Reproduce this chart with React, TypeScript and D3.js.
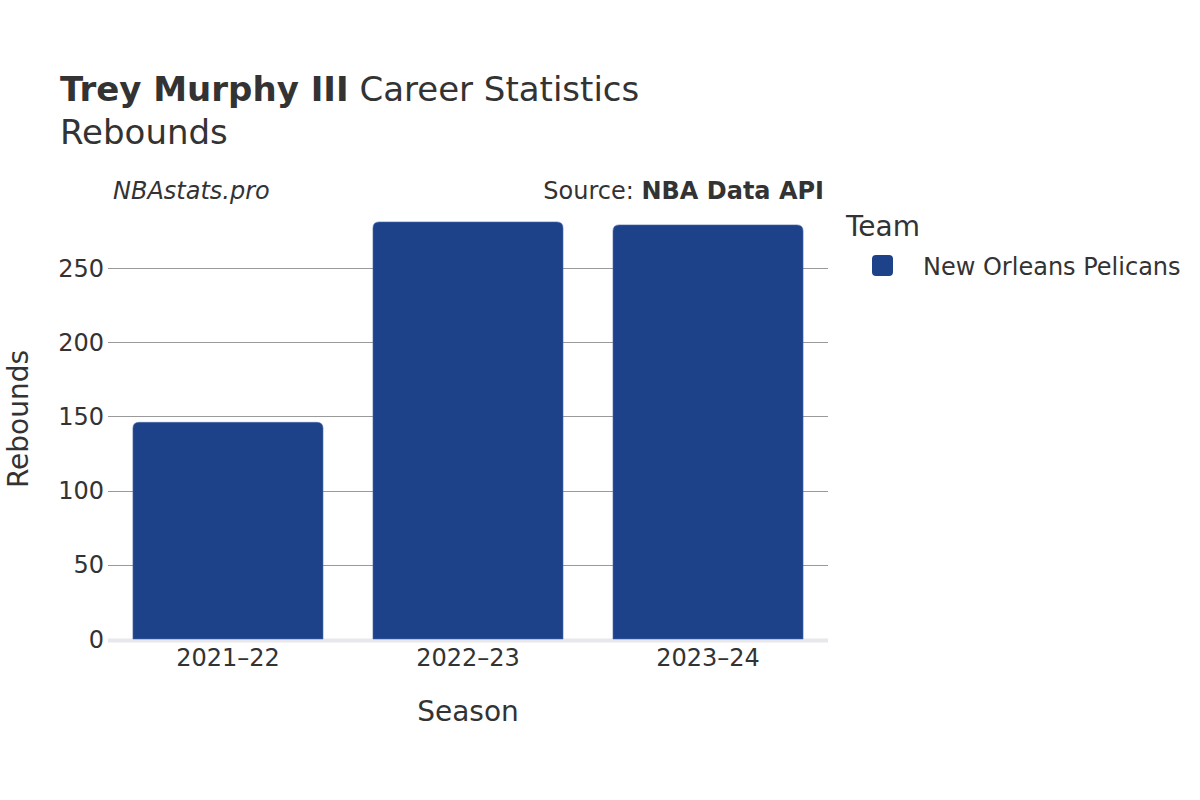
import * as d3 from "d3";
import { useEffect, useRef } from "react";

const seasons = ["2021–22", "2022–23", "2023–24"];
const rebounds = [146, 281, 279];
const yTicks = [0, 50, 100, 150, 200, 250];
const teamName = "New Orleans Pelicans";
const teamColor = "#1d428a";

const W = 1200;
const H = 800;
const margin = { top: 232, right: 372, bottom: 161, left: 108 };
const FONT = "'DejaVu Sans', sans-serif";

const App = () => {
  const ref = useRef<SVGSVGElement | null>(null);

  useEffect(() => {
    const svg: any = d3.select(ref.current);
    svg.selectAll("*").remove();
    const width = W - margin.left - margin.right;
    const height = H - margin.top - margin.bottom;

    const x = d3.scaleBand().domain(seasons).range([0, width]).paddingInner(0.2083).paddingOuter(0.104);
    // 250 sits at ~371px above the baseline
    const y = d3.scaleLinear().domain([0, 250]).range([height, height - 371]);

    svg.append("rect").attr("width", W).attr("height", H).attr("fill", "#fff");

    // titles
    const title = svg.append("text").attr("x", 60).attr("y", 101).attr("font-family", FONT).attr("font-size", 34).attr("fill", "#333");
    title.append("tspan").attr("font-weight", "bold").text("Trey Murphy III");
    title.append("tspan").text(" Career Statistics");
    svg.append("text").attr("x", 60).attr("y", 144).attr("font-family", FONT).attr("font-size", 34).attr("fill", "#333").text("Rebounds");

    svg.append("text").attr("x", 113).attr("y", 199).attr("font-family", FONT).attr("font-size", 24).attr("font-style", "italic").attr("fill", "#333").text("NBAstats.pro");
    const src = svg.append("text").attr("x", 824).attr("y", 199).attr("text-anchor", "end").attr("font-family", FONT).attr("font-size", 24).attr("fill", "#333");
    src.append("tspan").text("Source: ");
    src.append("tspan").attr("font-weight", "bold").text("NBA Data API");

    const g = svg.append("g").attr("transform", "translate(" + margin.left + "," + margin.top + ")");

    // gridlines
    g.selectAll(".grid")
      .data(yTicks.filter((t) => t > 0))
      .enter()
      .append("line")
      .attr("x1", 0)
      .attr("x2", width)
      .attr("y1", (d: number) => Math.round(y(d)) + 0.5)
      .attr("y2", (d: number) => Math.round(y(d)) + 0.5)
      .attr("stroke", "#9a9a9a")
      .attr("stroke-width", 1);

    // zero line
    g.append("line").attr("x1", 0).attr("x2", width).attr("y1", y(0) + 1.5).attr("y2", y(0) + 1.5).attr("stroke", "#e8e8ec").attr("stroke-width", 4);

    // y tick labels
    g.selectAll(".ytick")
      .data(yTicks)
      .enter()
      .append("text")
      .attr("x", -4)
      .attr("y", (d: number) => y(d) + 8.5)
      .attr("text-anchor", "end")
      .attr("font-family", FONT)
      .attr("font-size", 24)
      .attr("fill", "#333")
      .text((d: number) => d);

    // bars with rounded tops
    const r = 6;
    g.selectAll(".bar")
      .data(seasons)
      .enter()
      .append("path")
      .attr("fill", teamColor)
      .attr("stroke", "#4a6aa8")
      .attr("stroke-width", 0.6)
      .attr("d", (d: string, i: number) => {
        const x0 = x(d) as number;
        const x1 = x0 + x.bandwidth();
        const yt = y(rebounds[i]);
        const yb = y(0);
        return `M${x0},${yb}V${yt + r}Q${x0},${yt} ${x0 + r},${yt}H${x1 - r}Q${x1},${yt} ${x1},${yt + r}V${yb}Z`;
      });

    // x tick labels
    g.selectAll(".xtick")
      .data(seasons)
      .enter()
      .append("text")
      .attr("x", (d: string) => (x(d) as number) + x.bandwidth() / 2)
      .attr("y", height + 27)
      .attr("text-anchor", "middle")
      .attr("font-family", FONT)
      .attr("font-size", 24)
      .attr("fill", "#333")
      .text((d: string) => d);

    // axis titles
    svg.append("text").attr("x", margin.left + width / 2).attr("y", 721).attr("text-anchor", "middle").attr("font-family", FONT).attr("font-size", 28).attr("fill", "#333").text("Season");
    svg.append("text").attr("transform", "translate(18,419) rotate(-90)").attr("text-anchor", "middle").attr("dy", "0.35em").attr("font-family", FONT).attr("font-size", 28).attr("fill", "#333").text("Rebounds");

    // legend
    svg.append("text").attr("x", 846).attr("y", 236).attr("font-family", FONT).attr("font-size", 28).attr("fill", "#333").text("Team");
    svg.append("rect").attr("x", 872).attr("y", 255).attr("width", 21).attr("height", 21).attr("rx", 4).attr("fill", teamColor);
    svg.append("text").attr("x", 923).attr("y", 275).attr("font-family", FONT).attr("font-size", 24).attr("fill", "#333").text(teamName);
  }, []);

  return <svg ref={ref} width={W} height={H} style={{ position: "absolute", left: 0, top: 0 }} />;
};

export default App;
